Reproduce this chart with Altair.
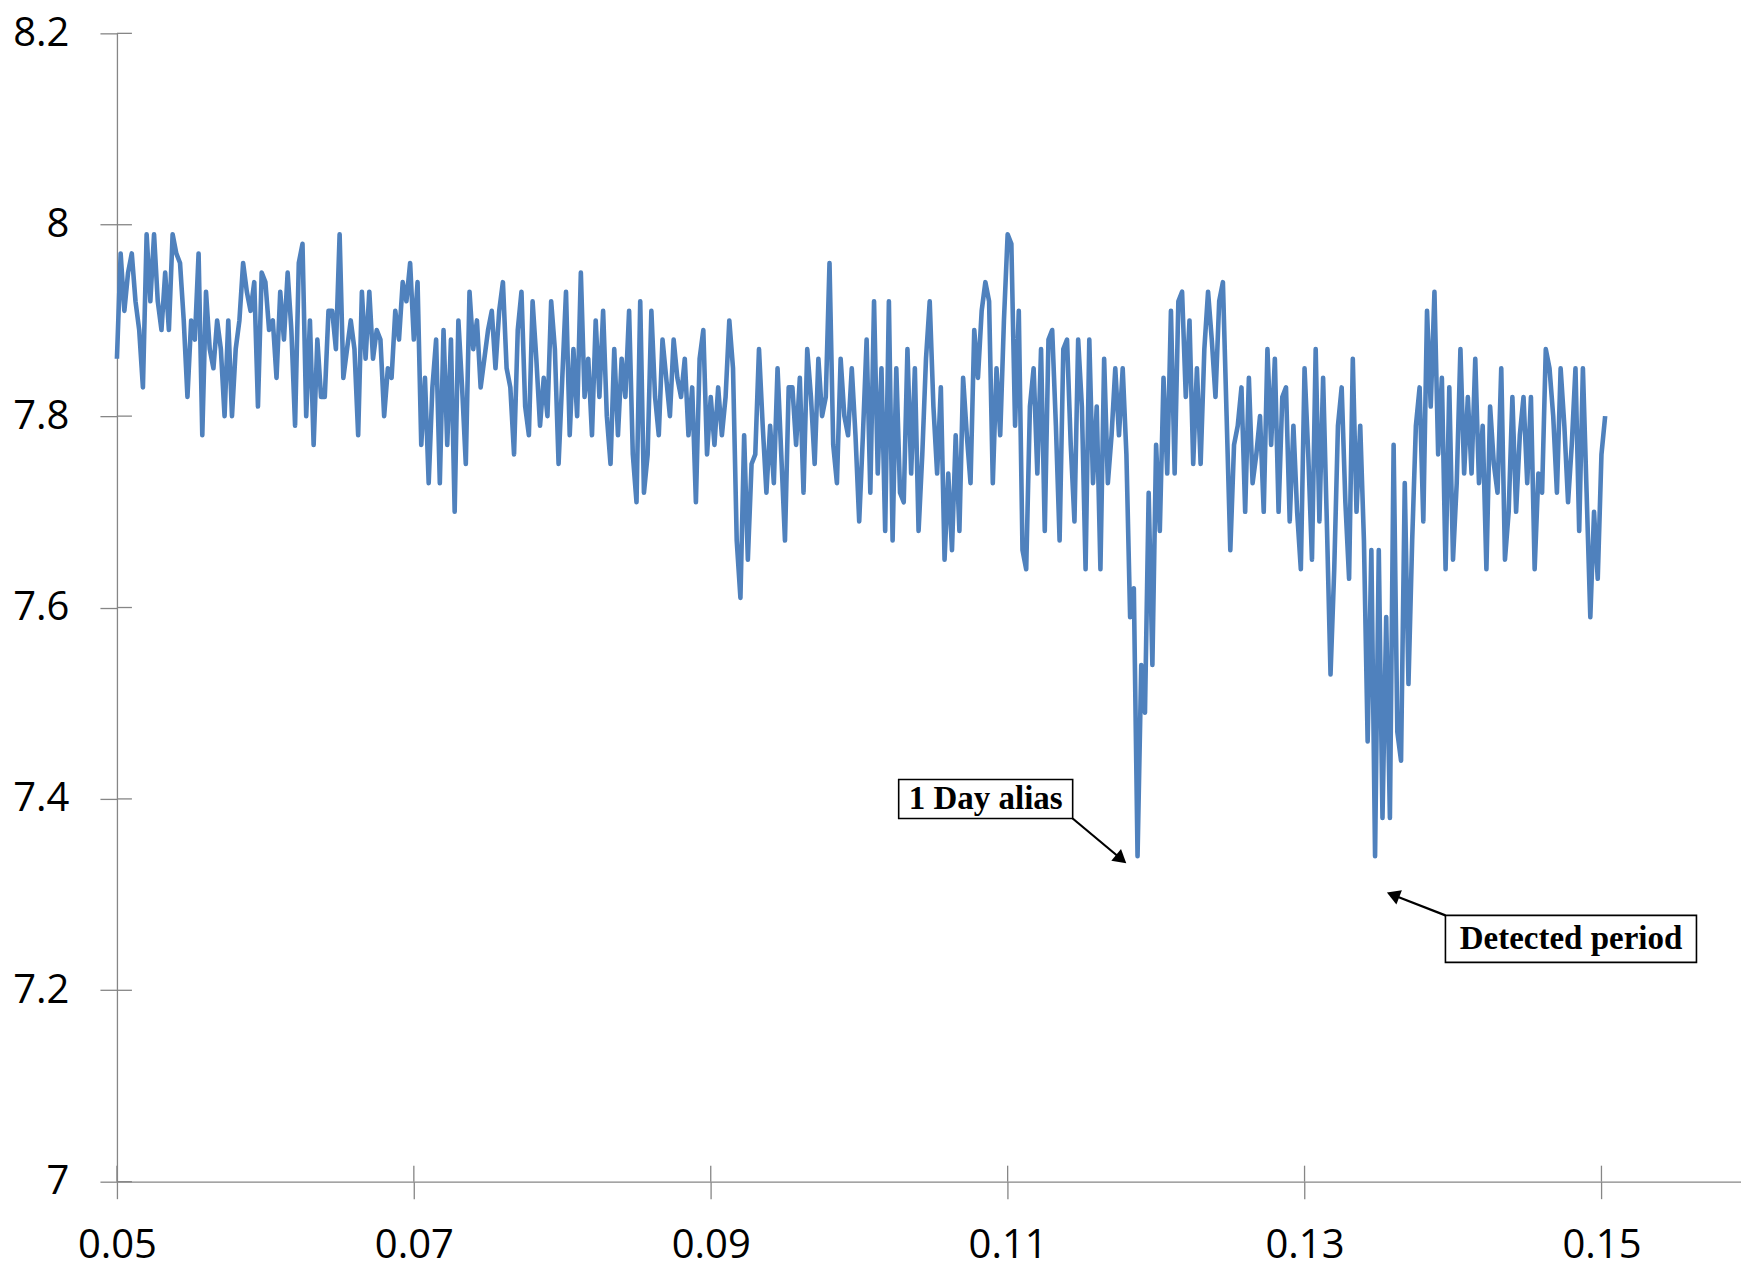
import altair as alt
import pandas as pd
import numpy as np

# ---------------- data ----------------
# power values on a frequency grid of step 0.00025, starting at 0.05
power_050_060 = [7.86, 7.97, 7.91, 7.95, 7.97, 7.92, 7.89, 7.83, 7.99, 7.92,
                 7.99, 7.92, 7.89, 7.95, 7.89, 7.99, 7.97, 7.96, 7.90, 7.82,
                 7.90, 7.88, 7.97, 7.78, 7.93, 7.87, 7.85, 7.90, 7.87, 7.80,
                 7.90, 7.80, 7.87, 7.90, 7.96, 7.93, 7.91, 7.94, 7.81]
power_060_070 = [7.95, 7.94, 7.89, 7.90, 7.84, 7.93, 7.88, 7.95, 7.89, 7.79,
                 7.96, 7.98, 7.80, 7.90, 7.77, 7.88, 7.82, 7.82, 7.91, 7.91,
                 7.87, 7.99, 7.84, 7.87, 7.90, 7.87, 7.78, 7.93, 7.86, 7.93,
                 7.86, 7.89, 7.88, 7.80, 7.85, 7.84, 7.91, 7.88, 7.94, 7.92,
                 7.96]
power_070_080 = [7.88, 7.94, 7.77, 7.84, 7.73, 7.83, 7.88, 7.73, 7.89, 7.77,
                 7.88, 7.70, 7.90, 7.83, 7.75, 7.93, 7.87, 7.90, 7.83, 7.86,
                 7.89, 7.91, 7.85, 7.91, 7.94, 7.85, 7.83, 7.76, 7.89, 7.93,
                 7.81, 7.78, 7.92, 7.86, 7.79, 7.84, 7.80, 7.92, 7.87, 7.75]
power_080_090 = [7.84, 7.93, 7.78, 7.87, 7.80, 7.95, 7.82, 7.86, 7.78, 7.90,
                 7.82, 7.91, 7.80, 7.75, 7.87, 7.78, 7.86, 7.82, 7.91, 7.76,
                 7.71, 7.92, 7.72, 7.76, 7.91, 7.82, 7.78, 7.88, 7.84, 7.80,
                 7.88, 7.84, 7.82, 7.86, 7.78, 7.83, 7.71, 7.86, 7.89, 7.76,
                 7.82]
power_090_100 = [7.77, 7.83, 7.78, 7.82, 7.90, 7.85, 7.67, 7.61, 7.78, 7.65,
                 7.75, 7.76, 7.87, 7.79, 7.72, 7.79, 7.73, 7.85, 7.76, 7.67,
                 7.83, 7.83, 7.77, 7.84, 7.72, 7.87, 7.82, 7.75, 7.86, 7.80,
                 7.82, 7.96, 7.77, 7.73, 7.86, 7.80, 7.78, 7.85, 7.78, 7.69]
power_100_110 = [7.78, 7.88, 7.72, 7.92, 7.74, 7.85, 7.68, 7.92, 7.67, 7.85,
                 7.72, 7.71, 7.87, 7.74, 7.85, 7.68, 7.76, 7.86, 7.92, 7.81,
                 7.74, 7.83, 7.65, 7.74, 7.66, 7.78, 7.68, 7.84, 7.78, 7.73,
                 7.89, 7.84, 7.91, 7.94, 7.92, 7.73, 7.85, 7.78, 7.90, 7.99]
power_110_120 = [7.98, 7.79, 7.91, 7.66, 7.64, 7.81, 7.85, 7.74, 7.87, 7.68,
                 7.88, 7.89, 7.79, 7.67, 7.87, 7.88, 7.77, 7.69, 7.88, 7.81,
                 7.64, 7.88, 7.73, 7.81, 7.64, 7.86, 7.73, 7.78, 7.85, 7.78,
                 7.85, 7.76, 7.59, 7.62, 7.34, 7.54, 7.49, 7.72, 7.54, 7.77]
power_120_130 = [7.68, 7.84, 7.74, 7.91, 7.74, 7.92, 7.93, 7.82, 7.90, 7.75,
                 7.85, 7.75, 7.87, 7.93, 7.88, 7.82, 7.92, 7.94, 7.80, 7.66,
                 7.77, 7.79, 7.83, 7.70, 7.84, 7.73, 7.76, 7.80, 7.70, 7.87,
                 7.77, 7.86, 7.70, 7.82, 7.83, 7.69, 7.79, 7.70, 7.64, 7.85]
power_130_140 = [7.76, 7.65, 7.87, 7.69, 7.84, 7.69, 7.53, 7.64, 7.79, 7.83,
                 7.71, 7.63, 7.86, 7.70, 7.79, 7.67, 7.46, 7.66, 7.34, 7.66,
                 7.38, 7.59, 7.38, 7.77, 7.47, 7.44, 7.73, 7.52, 7.67, 7.79,
                 7.83, 7.69, 7.91, 7.81, 7.93, 7.76, 7.84, 7.64, 7.83, 7.65]
power_140_150 = [7.73, 7.87, 7.74, 7.82, 7.74, 7.86, 7.73, 7.79, 7.64, 7.81,
                 7.75, 7.72, 7.85, 7.65, 7.70, 7.82, 7.70, 7.78, 7.82, 7.73,
                 7.82, 7.64, 7.74, 7.72, 7.87, 7.85, 7.80, 7.72, 7.85, 7.79,
                 7.71, 7.77, 7.85, 7.68, 7.85, 7.72, 7.59, 7.70, 7.63, 7.76,
                 7.80]

freq_start = 0.05
freq_step = 0.00025

x_ticks = [0.05, 0.07, 0.09, 0.11, 0.13, 0.15]
y_ticks = [7.0, 7.2, 7.4, 7.6, 7.8, 8.0, 8.2]

ann_labels = ["1 Day alias", "Detected period"]
ann_box_f1 = [0.10266, 0.13949]
ann_box_f2 = [0.11438, 0.15640]
ann_box_p1 = [7.4203, 7.2783]
ann_box_p2 = [7.3795, 7.2292]
ann_text_f = [0.10852, 0.14795]
ann_text_p = [7.4000, 7.2537]
arrow_f1 = [0.11438, 0.13949]
arrow_p1 = [7.3795, 7.2783]
arrow_f2 = [0.11765, 0.13596]
arrow_p2 = [7.3372, 7.2996]
arrow_angle = [129.8, 291.3]

# ---------------- build tables ----------------
power = (power_050_060 + power_060_070 + power_070_080 + power_080_090 +
         power_090_100 + power_100_110 + power_110_120 + power_120_130 +
         power_130_140 + power_140_150)
freq = np.round(freq_start + freq_step * np.arange(len(power)), 5)
df = pd.DataFrame({"freq": freq, "power": power})

ann = pd.DataFrame({
    "label": ann_labels,
    "bf1": ann_box_f1, "bf2": ann_box_f2,
    "bp1": ann_box_p1, "bp2": ann_box_p2,
    "tf": ann_text_f, "tp": ann_text_p,
    "af1": arrow_f1, "ap1": arrow_p1,
    "af2": arrow_f2, "ap2": arrow_p2,
    "angle": arrow_angle,
})
yt = pd.DataFrame({"v": y_ticks})
xt = pd.DataFrame({"v": x_ticks})

W, H = 1625, 1149
AX = "#868686"

xscale = alt.Scale(domain=[0.05, 0.1594], nice=False, zero=False)
yscale = alt.Scale(domain=[7.0, 8.2], nice=False, zero=False)

xaxis = alt.Axis(values=x_ticks, format=".2f", title=None, grid=False,
                 domainColor=AX, domainWidth=1.3, tickColor=AX, tickWidth=1.3,
                 tickSize=17, labelFont="Open Sans", labelFontSize=40,
                 labelColor="#000000", labelBaseline="alphabetic",
                 labelPadding=59, labelFlush=False, labelOverlap=False,
                 labelBound=False)
yaxis = alt.Axis(values=y_ticks, format="~g", title=None, grid=False,
                 domainColor=AX, domainWidth=1.3, tickColor=AX, tickWidth=1.3,
                 tickSize=17, labelFont="Open Sans", labelFontSize=40,
                 labelColor="#000000", labelPadding=31, labelOverlap=False,
                 labelBound=False)


def X(f):
    return alt.X(f, type="quantitative", scale=xscale, axis=xaxis)


def Y(f):
    return alt.Y(f, type="quantitative", scale=yscale, axis=yaxis)


line = alt.Chart(df).mark_line(color="#4F81BD", strokeWidth=4.6,
                               strokeJoin="round").encode(
    x=X("freq"), y=Y("power"))

ytick_in = alt.Chart(yt).mark_rule(color=AX, strokeWidth=1.3).encode(
    y=Y("v"), x=alt.value(0), x2=alt.value(15))
xtick_in = alt.Chart(xt).mark_rule(color=AX, strokeWidth=1.3).encode(
    x=X("v"), y=alt.value(H), y2=alt.value(H - 16))

arrows = alt.Chart(ann).mark_rule(color="black", strokeWidth=2.2).encode(
    x=X("af1"), x2="af2", y=Y("ap1"), y2="ap2")
heads = alt.Chart(ann).mark_point(shape="triangle-up", filled=True,
                                  color="black", opacity=1, size=230).encode(
    x=X("af2"), y=Y("ap2"), angle=alt.Angle("angle:Q", scale=None))

boxes = alt.Chart(ann).mark_rect(fill="white", stroke="black",
                                 strokeWidth=1.6).encode(
    x=X("bf1"), x2="bf2", y=Y("bp1"), y2="bp2")
texts = alt.Chart(ann).mark_text(font="Liberation Serif", fontWeight="bold",
                                 fontSize=33, color="black", align="center",
                                 baseline="middle").encode(
    x=X("tf"), y=Y("tp"), text="label:N")

chart = alt.layer(line, ytick_in, xtick_in, arrows, heads, boxes, texts).properties(
    width=W, height=H,
    autosize=alt.AutoSizeParams(type="none"),
    padding={"left": 109, "top": 25, "right": 0, "bottom": 90},
    background="white",
).configure_view(stroke=None)

chart.save("out.html", embed_options={"renderer": "svg", "actions": False})
